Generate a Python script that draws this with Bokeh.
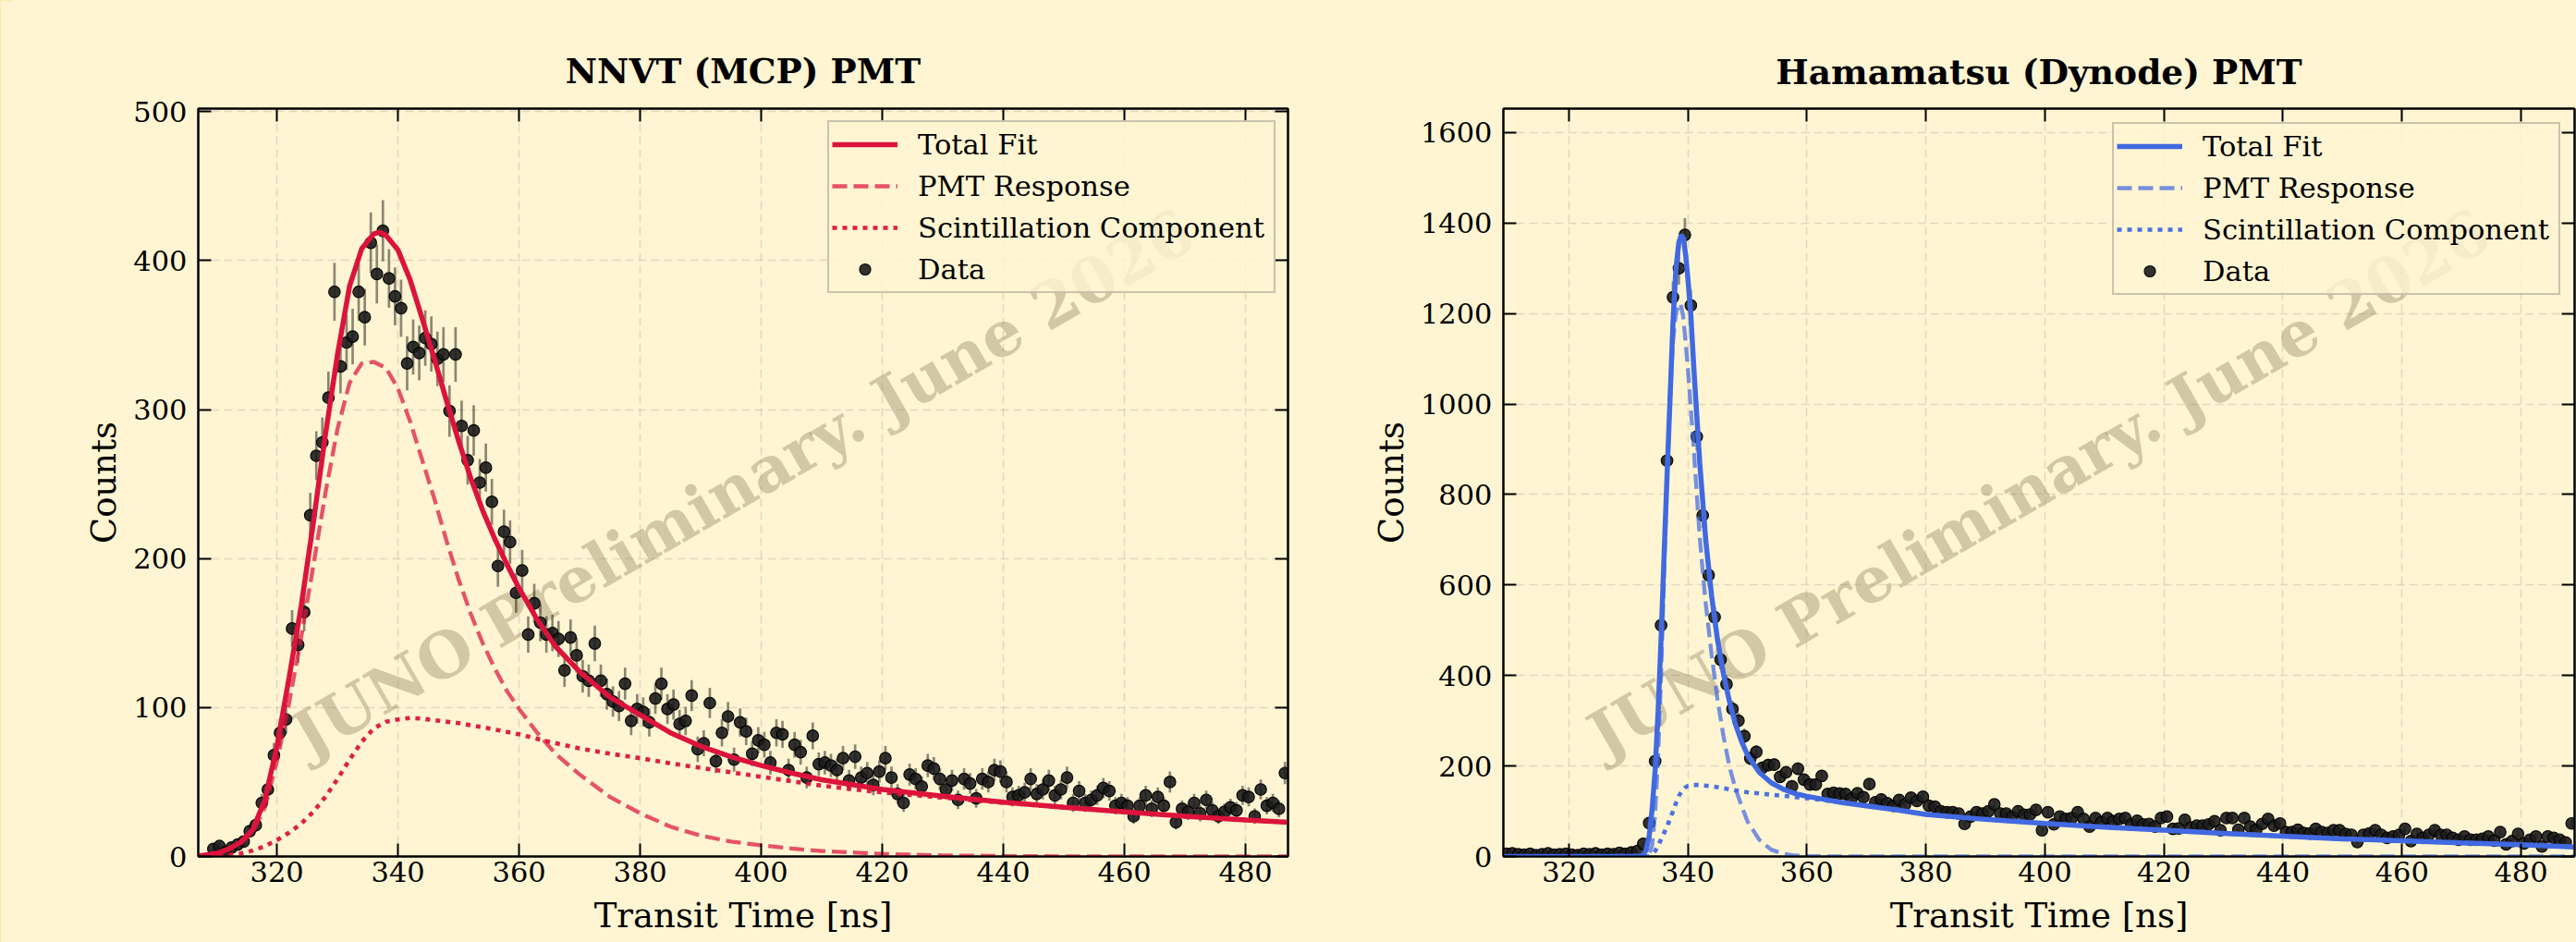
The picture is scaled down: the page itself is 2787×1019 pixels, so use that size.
from bokeh.plotting import figure
from bokeh.layouts import row
from bokeh.models import (ColumnDataSource, Range1d, FixedTicker, LinearAxis, Legend,
                          LegendItem, Label)
from bokeh.embed import file_html
from bokeh.resources import INLINE
import numpy as np

# ---------------- data : NNVT (MCP) PMT ----------------
nnvt_t0 = 309.5
nnvt_counts = [5, 7, 3, 6, 8, 10, 17, 21, 36, 45, 68, 83, 92, 153, 142, 164, 229, 269, 278, 308,
               379, 329, 345, 349, 379, 362, 412, 391, 420, 388, 376, 368, 331, 342, 338, 348, 344, 334, 337, 299,
               337, 289, 266, 286, 251, 261, 238, 195, 218, 211, 177, 192, 149, 170, 157, 149, 150, 146, 125, 147,
               135, 121, 118, 143, 118, 109, 104, 101, 116, 91, 99, 97, 90, 106, 116, 99, 102, 89, 91, 108,
               72, 76, 103, 64, 83, 94, 65, 90, 84, 69, 78, 75, 63, 83, 82, 58, 75, 70, 53, 81,
               62, 63, 61, 58, 66, 51, 67, 53, 56, 48, 57, 66, 53, 42, 36, 55, 52, 47, 61, 59,
               52, 45, 51, 38, 52, 49, 39, 52, 50, 58, 57, 50, 40, 41, 43, 52, 42, 45, 51, 41,
               45, 53, 36, 44, 36, 38, 41, 46, 44, 34, 36, 34, 27, 34, 41, 32, 40, 34, 50, 23,
               32, 30, 36, 29, 38, 31, 27, 30, 33, 31, 41, 40, 27, 45, 34, 36, 32, 56]
nnvt_total_t = [307, 310, 312, 314, 316, 318, 320, 322, 324, 326, 328, 330, 332, 334, 336, 337, 338, 340,
                342, 344, 346, 348, 350, 352, 354, 356, 358, 360, 363, 366, 370, 375, 380, 385, 390, 395,
                400, 405, 410, 420, 430, 440, 450, 460, 470, 480, 487]
nnvt_total = [0.3, 2, 5, 9.5, 18, 38, 74, 120, 168, 224, 283, 337, 383, 408, 418, 419, 417, 407,
              387, 361, 334, 306, 279, 254, 232, 213, 196, 180, 159, 141, 124, 107, 95, 83, 74, 67,
              61, 56, 51.5, 45, 40.5, 36.5, 33, 30, 27, 24.5, 23]
nnvt_pmt_t = [307, 310, 312, 314, 316, 318, 320, 322, 324, 326, 328, 330, 332, 334, 336, 338, 340, 342,
              344, 346, 348, 350, 352, 354, 356, 358, 360, 363, 366, 370, 375, 380, 385, 390, 395, 400,
              405, 410, 420, 430, 440, 450, 487]
nnvt_pmt = [0.3, 2, 4.5, 9, 16, 33, 64, 103, 147, 195, 244, 287, 318, 331, 332, 328, 314, 292,
            266, 240, 212, 186, 163, 143, 126, 111, 99, 83, 69, 55, 40, 29, 20, 14, 10, 7.5,
            5.3, 3.7, 1.7, 0.7, 0.3, 0.1, 0]
nnvt_scint_t = [307, 310, 312, 314, 316, 318, 320, 322, 324, 326, 328, 330, 332, 334, 336, 338, 340, 342,
                344, 346, 348, 350, 355, 360, 365, 370, 375, 380, 385, 390, 395, 400, 405, 410, 420, 430,
                440, 450, 460, 470, 480, 487]
nnvt_scint = [0, 0.5, 1, 2, 4, 7, 11, 16, 22, 30, 40, 52, 65, 77, 86, 90.5, 92, 93,
              92.5, 91.5, 90.5, 89.5, 86, 82, 77, 72.5, 69, 66, 62.5, 59.5, 56.5, 53.5, 50.5, 47.5, 43, 39.5,
              36, 33, 30, 27, 24.5, 23]

# ---------------- data : Hamamatsu (Dynode) PMT ----------------
hama_t0 = 309.5
hama_counts = [6, 7, 5, 4, 6, 3, 5, 7, 4, 5, 6, 4, 3, 6, 5, 7, 4, 6, 5, 8, 6, 9, 12,
               28, 74, 211, 511, 875, 1236, 1300, 1374, 1218, 928, 754, 622, 529, 435, 381, 326, 300, 266,
               217, 231, 196, 202, 203, 176, 186, 155, 194, 170, 159, 159, 178, 138, 141, 139, 138, 128, 140,
               131, 160, 120, 126, 118, 112, 125, 115, 130, 123, 132, 112, 110, 100, 98, 98, 95, 72, 88,
               98, 95, 100, 115, 95, 95, 88, 100, 92, 93, 103, 58, 98, 71, 88, 83, 85, 98, 83, 66,
               85, 76, 85, 78, 83, 85, 71, 79, 71, 72, 66, 85, 88, 61, 62, 81, 64, 68, 68, 71,
               78, 58, 85, 85, 59, 85, 66, 59, 72, 83, 68, 73, 54, 54, 59, 52, 51, 61, 54, 52,
               58, 58, 50, 48, 32, 48, 51, 58, 48, 41, 44, 48, 61, 34, 50, 41, 48, 58, 48, 48,
               41, 37, 44, 37, 37, 39, 44, 35, 54, 27, 34, 50, 29, 37, 44, 22, 44, 41, 37, 31, 73]
hama_total_t = [309, 332, 332.5, 333, 333.5, 334, 334.5, 335, 335.5, 336, 336.5, 337, 337.5, 338, 338.5,
                338.9, 339.3, 339.7, 340, 340.5, 341, 341.5, 342, 342.5, 343, 344, 345, 346, 347, 348,
                349, 350, 352, 354, 356, 358, 360, 363, 366, 370, 375, 380, 390, 400, 410, 420, 430,
                440, 450, 460, 470, 480, 489]
hama_total = [0, 0, 3, 15, 45, 105, 190, 320, 480, 665, 840, 1010, 1180, 1300, 1358,
              1374, 1365, 1320, 1278, 1197, 1081, 975, 870, 785, 700, 575, 478, 402, 342, 292,
              255, 225, 186, 163, 149, 139, 133, 126, 119, 112, 103, 93, 82, 73, 65, 58, 51,
              45, 39, 34.5, 30, 26, 21]
hama_pmt_t = [309, 333.5, 334, 334.5, 335, 335.5, 336, 336.5, 337, 337.5, 338, 338.5, 338.8, 339.2, 339.6,
              340, 340.5, 341, 341.5, 342, 342.5, 343, 344, 345, 346, 347, 348, 349, 350, 352, 354,
              356, 358, 360, 365, 489]
hama_pmt = [0, 2, 25, 95, 220, 400, 620, 840, 1010, 1140, 1200, 1222, 1220, 1195, 1140,
            1080, 990, 900, 800, 705, 630, 560, 445, 345, 265, 198, 150, 113, 78, 37, 15,
            6, 2, 1, 0, 0]
hama_scint_t = [309, 333.5, 334, 334.5, 335, 335.5, 336, 336.5, 337, 337.5, 338, 338.5, 339, 339.5, 340,
                341, 342, 344, 346, 348, 350, 353, 356, 360, 365, 370, 375, 380, 390, 400, 410, 420,
                430, 440, 450, 460, 470, 480, 489]
hama_scint = [0, 0, 5, 12, 24, 38, 52, 66, 83, 100, 118, 134, 145, 152, 156,
              158, 158, 155, 151, 146, 142, 138, 134, 129, 121, 113, 104, 93, 82, 73, 65, 58,
              51, 45, 39, 34.5, 30, 26, 21]

x_ticks = [320, 340, 360, 380, 400, 420, 440, 460, 480]
nnvt_y_ticks = [0, 100, 200, 300, 400, 500]
hama_y_ticks = [0, 200, 400, 600, 800, 1000, 1200, 1400, 1600]

BG = "#FFF5D2"
STRIP = "#FFE796"
FONT = "DejaVu Serif"


def make_panel(title, counts, t0, tot_t, tot, pmt_t, pmt, sc_t, sc, color, xr, yr, yticks,
               width, mb_left, mb_right, mb_top, mb_bottom, title_standoff, leg_margin):
    p = figure(width=width, height=1019, x_range=Range1d(*xr), y_range=Range1d(*yr),
               output_backend="svg", toolbar_location=None,
               min_border_left=mb_left, min_border_right=mb_right, min_border_top=mb_top,
               min_border_bottom=mb_bottom, background_fill_color=BG, border_fill_color=BG,
               outline_line_color="black", outline_line_width=2)
    p.title.text = title
    p.title.align = "center"
    p.title.text_font = FONT
    p.title.text_font_style = "bold"
    p.title.text_font_size = "37.5px"
    p.title.text_color = "black"
    p.title.standoff = title_standoff

    # axes
    for ax, ticks in ((p.xaxis[0], x_ticks), (p.yaxis[0], yticks)):
        ax.ticker = FixedTicker(ticks=ticks)
        ax.major_label_text_font = FONT
        ax.major_label_text_font_size = "30.5px"
        ax.major_label_text_color = "black"
        ax.major_tick_in = 14
        ax.major_tick_out = 0
        ax.major_tick_line_width = 2
        ax.minor_tick_line_color = None
        ax.axis_line_width = 2
        ax.axis_label_text_font = FONT
        ax.axis_label_text_font_size = "37px"
        ax.axis_label_text_font_style = "normal"
        ax.axis_label_text_color = "black"
    p.xaxis[0].axis_label = "Transit Time [ns]"
    p.xaxis[0].major_label_standoff = 5
    p.xaxis[0].axis_label_standoff = 12
    p.yaxis[0].axis_label = "Counts"
    p.yaxis[0].major_label_standoff = 12
    p.yaxis[0].axis_label_standoff = 7

    for loc, ticks in (("above", x_ticks), ("right", yticks)):
        ax = LinearAxis(ticker=FixedTicker(ticks=ticks), major_label_text_font_size="0px",
                        major_label_text_color=None,
                        major_label_standoff=0, major_tick_in=14, major_tick_out=0,
                        major_tick_line_width=2, minor_tick_line_color=None, axis_line_width=2)
        p.add_layout(ax, loc)

    for g in (p.xgrid[0], p.ygrid[0]):
        g.grid_line_color = "#9a9a9a"
        g.grid_line_alpha = 0.3
        g.grid_line_dash = "9 5"
        g.grid_line_width = 1.5

    # watermark
    wm = Label(x=(xr[0] + xr[1]) / 2, y=(yr[0] + yr[1]) / 2, text="JUNO Preliminary. June 2026",
               angle=30, angle_units="deg", text_align="center", text_baseline="middle",
               text_font=FONT, text_font_style="bold", text_font_size="68px",
               text_color="#8C7F58", text_alpha=0.38, level="underlay")
    p.add_layout(wm)

    # data
    x = t0 + np.arange(len(counts))
    y = np.array(counts, dtype=float)
    err = np.sqrt(y)
    src = ColumnDataSource(dict(x=x, y=y, lo=y - err, hi=y + err))
    p.segment(x0="x", y0="lo", x1="x", y1="hi", source=src, line_color="black",
              line_alpha=0.45, line_width=2.7)
    r_data = p.scatter("x", "y", source=src, size=12.5, fill_color="#1c1c1c", fill_alpha=0.9,
                       line_color="black", line_alpha=0.95, line_width=1.2)

    r_pmt = p.line(pmt_t, pmt, line_color=color, line_alpha=0.72, line_width=4.3, line_dash="16 7")
    r_sc = p.line(sc_t, sc, line_color=color, line_alpha=0.95, line_width=4.6, line_dash="5 6")
    r_tot = p.line(tot_t, tot, line_color=color, line_width=5.5)

    leg = Legend(items=[LegendItem(label="Total Fit", renderers=[r_tot]),
                        LegendItem(label="PMT Response", renderers=[r_pmt]),
                        LegendItem(label="Scintillation Component", renderers=[r_sc]),
                        LegendItem(label="Data", renderers=[r_data])],
                 location="top_right", margin=leg_margin, padding=3, spacing=3,
                 glyph_width=71, glyph_height=30, label_height=42, label_width=382,
                 label_standoff=22,
                 label_text_font=FONT, label_text_font_size="30.5px", label_text_color="black",
                 background_fill_color=BG, background_fill_alpha=0.8,
                 border_line_color="#bdb7a2", border_line_width=2, border_line_alpha=0.8)
    p.add_layout(leg)
    return p


p1 = make_panel("NNVT (MCP) PMT", nnvt_counts, nnvt_t0, nnvt_total_t, nnvt_total,
                nnvt_pmt_t, nnvt_pmt, nnvt_scint_t, nnvt_scint, "#DC143C",
                (307, 487), (0, 502), nnvt_y_ticks, 1450, 214, 57, 117, 93, 37, 13)
p2 = make_panel("Hamamatsu (Dynode) PMT", hama_counts, hama_t0, hama_total_t, hama_total,
                hama_pmt_t, hama_pmt, hama_scint_t, hama_scint, "#4169E1",
                (309, 489), (0, 1653), hama_y_ticks, 1337, 176, 2, 112, 90, 35, 15)

layout = row(p1, p2)
html = file_html(layout, INLINE, title="PMT transit time")
html = html.replace("<head>", "<head><style>html,body{background:linear-gradient(to right," + STRIP
                    + " 0," + STRIP + " 13px," + BG + " 13px);}</style>", 1)
open("out.html", "w").write(html)
